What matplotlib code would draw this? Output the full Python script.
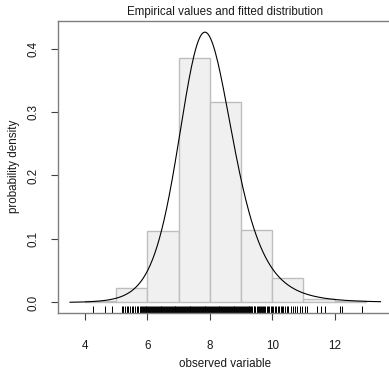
import numpy as np
import matplotlib
matplotlib.use("Agg")
import matplotlib.pyplot as plt
from math import gamma, pi, sqrt

# ---- data ----
bin_edges = [4, 5, 6, 7, 8, 9, 10, 11, 12, 13]
bin_density = [0.003, 0.023, 0.112, 0.385, 0.315, 0.114, 0.039, 0.006, 0.003]

rug_x = [4.25, 4.64, 4.85,
         5.17, 5.22, 5.28, 5.33, 5.38, 5.45, 5.52, 5.55, 5.60, 5.66, 5.70, 5.76,
         5.80, 5.84, 5.87, 5.90, 5.93, 5.95, 5.97, 6.00, 6.02, 6.05, 6.08, 6.12,
         6.15, 6.18, 6.21, 6.24, 6.27, 6.30, 6.33, 6.36, 6.39,
         6.42, 6.45, 6.48, 6.51, 6.54, 6.57, 6.60, 6.63, 6.66, 6.69, 6.72, 6.75,
         6.78, 6.81, 6.84, 6.87, 6.90, 6.93, 6.96, 6.99, 7.02, 7.05, 7.08, 7.11,
         7.14, 7.17, 7.20, 7.23, 7.26, 7.29, 7.32, 7.35, 7.38, 7.41, 7.44, 7.47,
         7.50, 7.53, 7.56, 7.59, 7.62, 7.65, 7.68, 7.71, 7.74, 7.77, 7.80, 7.83,
         7.86, 7.89, 7.92, 7.95, 7.98, 8.01, 8.04, 8.07, 8.10, 8.13, 8.16, 8.19,
         8.22, 8.25, 8.28, 8.31, 8.34, 8.37, 8.40, 8.43, 8.46, 8.49, 8.52, 8.55,
         8.58, 8.61, 8.64, 8.67, 8.70, 8.73, 8.76, 8.79, 8.82, 8.85, 8.88, 8.91,
         8.94, 8.97, 9.00, 9.03, 9.06, 9.09, 9.12, 9.15, 9.18, 9.21, 9.24, 9.27,
         9.30,
         9.33, 9.36, 9.40, 9.43, 9.46, 9.50, 9.53, 9.57, 9.60, 9.64, 9.67, 9.71,
         9.75, 9.78, 9.82, 9.86, 9.90, 9.95, 10.00, 10.04, 10.08, 10.13, 10.18,
         10.22, 10.27, 10.30, 10.36, 10.42, 10.47, 10.52, 10.60, 10.66, 10.72,
         10.80, 10.88, 10.95,
         11.05, 11.10, 11.42, 11.56, 11.69, 12.17, 12.22, 12.87]

# fitted distribution (t distribution on log scale)
fit_df = 6.0
fit_loc = np.log(7.93)
fit_scale = 0.114
curve_range = [3.52, 13.47]

x_ticks = [4, 6, 8, 10, 12]
y_ticks = [0.0, 0.1, 0.2, 0.3, 0.4]

title = "Empirical values and fitted distribution"
xlabel = "observed variable"
ylabel = "probability density"

# ---- figure ----
plt.rcParams['font.family'] = ['Liberation Sans', 'DejaVu Sans']
W, H = 389, 371
fig = plt.figure(figsize=(W / 100, H / 100), dpi=100)
L, R, T, B = 57.7, 393.0, 20.5, 312.7
ax = fig.add_axes([L / W, 1 - B / H, (R - L) / W, (B - T) / H])
ax.set_xlim(3.125, 13.87)
ax.set_ylim(-0.0161, 0.4441)

widths = np.diff(bin_edges)
ax.bar(bin_edges[:-1], bin_density, width=widths, align='edge',
       facecolor='#f0f0f0', edgecolor='#bebebe', linewidth=1.0, zorder=1)

xs = np.linspace(curve_range[0], curve_range[1], 400)
c = gamma((fit_df + 1) / 2) / (gamma(fit_df / 2) * sqrt(fit_df * pi))
z = (np.log(xs) - fit_loc) / fit_scale
dens = c * (1 + z ** 2 / fit_df) ** (-(fit_df + 1) / 2) / (fit_scale * xs)
ax.plot(xs, dens, color='black', linewidth=0.8, zorder=3)

ax.vlines(rug_x, 0, 0.023, transform=ax.get_xaxis_transform(),
          color='black', linewidth=0.7, zorder=2)

for s in ['left', 'bottom', 'top']:
    ax.spines[s].set_color('#7f7f7f')
    ax.spines[s].set_linewidth(1.0)
ax.spines['right'].set_visible(False)

ax.set_xticks(x_ticks)
ax.set_xticklabels([str(v) for v in x_ticks])
ax.set_yticks(y_ticks)
ax.set_yticklabels([f"{v:.1f}" for v in y_ticks], rotation=90, va='center')
ax.tick_params(axis='both', length=4.7, width=0.8, color='#404040',
               labelsize=8.4, labelcolor='#1a1a1a')
ax.tick_params(axis='x', pad=15.0)
ax.tick_params(axis='y', pad=8.4)

ax.set_xlabel(xlabel, fontsize=8.4, color='#1a1a1a', labelpad=4.5)
ax.set_ylabel(ylabel, fontsize=8.4, color='#1a1a1a', labelpad=5.5)
ax.set_title(title, fontsize=8.4, color='#1a1a1a', pad=4)

fig.savefig('out.png', dpi=100)
